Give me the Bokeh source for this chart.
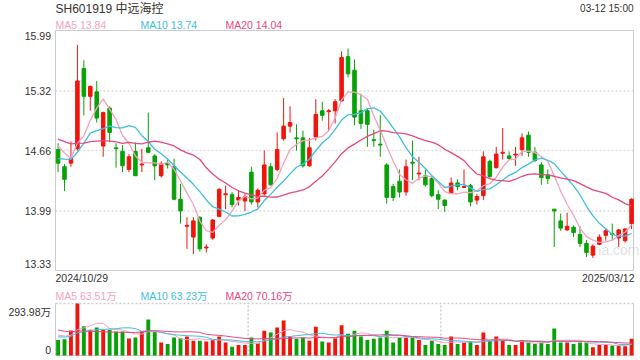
import numpy as np
from bokeh.plotting import figure
from bokeh.models import Range1d, Label, ColumnDataSource
from bokeh.layouts import column
from bokeh.embed import file_html
from bokeh.resources import INLINE

# ---------------- data ----------------
title_text = "SH601919 中远海控"
time_text = "03-12 15:00"
start_date = "2024/10/29"
end_date = "2025/03/12"

open_ = [14.67, 14.48, 14.52, 14.68, 15.57, 15.26, 15.31, 14.71, 15.13, 14.69,
         14.65, 14.45, 14.65, 14.50, 14.69, 14.60, 14.38, 14.52, 14.48, 14.12,
         13.82, 13.70, 13.92, 13.58, 13.69, 13.93, 14.17, 14.17, 14.11, 14.10,
         14.42, 14.09, 14.18, 14.48, 14.45, 14.79, 14.93, 14.80, 14.80, 14.49,
         14.81, 15.10, 15.09, 15.10, 15.21, 15.70, 15.55, 15.10, 15.10, 14.78,
         14.73, 14.50, 14.26, 14.32, 14.20, 14.53, 14.40, 14.38, 14.35, 14.17,
         14.11, 14.19, 14.30, 14.25, 14.27, 14.11, 14.16, 14.54, 14.47, 14.63,
         14.60, 14.61, 14.67, 14.83, 14.64, 14.50, 14.39, 14.01, 13.88, 13.78,
         13.81, 13.73, 13.63, 13.50, 13.62, 13.72, 13.74, 13.69, 13.66, 13.85]
high = [14.74, 14.51, 14.76, 15.83, 15.66, 15.38, 15.43, 15.09, 15.15, 14.74,
        14.72, 14.62, 14.75, 14.68, 15.08, 14.62, 14.54, 14.56, 14.57, 14.29,
        13.92, 13.92, 13.93, 13.62, 13.90, 14.24, 14.27, 14.20, 14.22, 14.18,
        14.48, 14.24, 14.66, 14.52, 14.86, 15.24, 15.15, 14.95, 14.88, 14.80,
        15.23, 15.20, 15.12, 15.23, 15.76, 15.79, 15.67, 15.29, 15.13, 14.89,
        15.05, 14.52, 14.29, 14.45, 14.56, 14.77, 14.59, 14.45, 14.37, 14.22,
        14.12, 14.36, 14.34, 14.45, 14.29, 14.18, 14.65, 14.56, 14.70, 14.91,
        14.65, 14.70, 14.85, 14.87, 14.70, 14.53, 14.45, 14.01, 13.96, 13.97,
        13.83, 13.82, 13.67, 13.62, 13.73, 13.80, 13.85, 13.79, 13.80, 14.13]
low = [14.42, 14.21, 14.48, 14.66, 15.05, 15.10, 14.97, 14.59, 14.75, 14.47,
       14.42, 14.42, 14.38, 14.42, 14.63, 14.33, 14.36, 14.46, 14.11, 13.85,
       13.57, 13.51, 13.54, 13.53, 13.67, 13.92, 14.01, 14.03, 14.05, 13.99,
       14.06, 14.03, 14.16, 14.27, 14.43, 14.77, 14.86, 14.66, 14.47, 14.48,
       14.77, 14.99, 14.88, 14.96, 15.20, 15.47, 14.94, 14.90, 14.70, 14.70,
       14.59, 14.07, 14.10, 14.14, 14.16, 14.33, 14.33, 14.26, 14.14, 14.01,
       13.98, 14.19, 14.22, 14.25, 14.04, 14.06, 14.11, 14.36, 14.46, 14.56,
       14.56, 14.49, 14.60, 14.59, 14.53, 14.28, 14.29, 13.59, 13.77, 13.77,
       13.70, 13.59, 13.48, 13.47, 13.61, 13.66, 13.66, 13.59, 13.64, 13.79]
close = [14.52, 14.34, 14.57, 15.43, 15.26, 15.37, 15.02, 15.08, 14.86, 14.68,
         14.49, 14.59, 14.38, 14.51, 14.64, 14.49, 14.51, 14.50, 14.12, 13.99,
         13.83, 13.88, 13.57, 13.59, 13.89, 14.23, 14.18, 14.06, 14.14, 14.15,
         14.09, 14.22, 14.50, 14.28, 14.67, 14.93, 14.97, 14.79, 14.49, 14.69,
         15.06, 15.05, 15.10, 15.20, 15.69, 15.51, 15.03, 14.96, 14.95, 14.77,
         14.72, 14.14, 14.14, 14.20, 14.48, 14.52, 14.41, 14.28, 14.16, 14.12,
         14.05, 14.30, 14.26, 14.26, 14.09, 14.15, 14.59, 14.37, 14.62, 14.64,
         14.57, 14.62, 14.80, 14.64, 14.55, 14.36, 14.35, 13.99, 13.80, 13.82,
         13.75, 13.63, 13.53, 13.60, 13.70, 13.77, 13.73, 13.78, 13.79, 14.12]
# volume in 万 (10k lots)
volume = [88, 92, 142, 293.98, 165, 146, 159, 146, 146, 136,
          136, 96, 102, 136, 204, 134, 73, 65, 102, 98,
          107, 84, 84, 79, 88, 107, 73, 50, 60, 60,
          102, 69, 140, 130, 159, 198, 107, 94, 102, 84,
          163, 79, 73, 98, 171, 123, 140, 107, 88, 94,
          102, 140, 73, 102, 102, 102, 88, 60, 84, 65,
          60, 107, 65, 73, 79, 60, 130, 82, 107, 84,
          60, 60, 88, 73, 65, 73, 65, 152, 73, 73,
          65, 73, 73, 46, 60, 60, 56, 56, 52, 94]
# sessions before the window (estimated from where the MA lines start)
prior_close = [14.85, 15.10, 15.30, 15.20, 15.05, 14.90, 15.00, 14.95, 14.85, 14.80,
               14.40, 14.60, 14.63, 14.26, 14.26, 14.73, 14.87, 14.58, 14.85]
prior_volume = [230, 210, 195, 185, 175, 170, 180, 165, 160, 150,
                110, 100, 95, 90, 90, 115, 125, 130, 117]

price_ticks = [15.99, 15.32, 14.66, 13.99, 13.33]
vol_max = 293.98
ma_periods = [5, 10, 20]
ma_price_text = ["MA5 13.84", "MA10 13.74", "MA20 14.04"]
ma_vol_text = ["MA5 63.51万", "MA10 63.23万", "MA20 70.16万"]

# ---------------- styles / layout ----------------
FONT = "Liberation Sans, Noto Sans CJK SC"
RED = "#f0150c"
GREEN = "#08a108"
MA_COLORS = ["#f6a2bf", "#3dbfe2", "#e8487e"]
TXT = "#333333"
BORDER = "#cccccc"
GRID = "#dddddd"
X0, X1 = -0.4, 89.3            # data extent of the chart boxes
W = 640
BOX_L, BOX_R = 55, 633         # pixel edges of the boxes
H1, P_TOP, P_BOT = 290, 30, 270
H2, V_TOP, V_BOT = 70, 13, 65  # volume box, in the second canvas

kx = (BOX_R - BOX_L) / (X1 - X0)
xr0 = X0 - BOX_L / kx
xr1 = xr0 + W / kx
pmin, pmax = price_ticks[-1], price_ticks[0]
ky = (P_BOT - P_TOP) / (pmax - pmin)
yr1 = pmax + P_TOP / ky
yr0 = pmin - (H1 - P_BOT) / ky
kv = (V_BOT - V_TOP) / vol_max
vr1 = vol_max + V_TOP / kv
vr0 = 0 - (H2 - V_BOT) / kv


def moving_avg(series, prior, n):
    full = np.array(list(prior) + list(series), dtype=float)
    k = len(prior)
    return [float(full[max(0, k + i - n + 1):k + i + 1].mean()) for i in range(len(series))]


n = len(close)
xs = list(range(n))
colors = [RED if c >= o else GREEN for o, c in zip(open_, close)]
src = ColumnDataSource(dict(
    x=xs, open=open_, high=high, low=low, close=close,
    top=[max(o, c) for o, c in zip(open_, close)],
    bottom=[min(o, c) for o, c in zip(open_, close)],
    vol=volume, color=colors))


def label(p, x, y, text, color=TXT, size="10.5px", align="left",
          y_units="screen", y_offset=0, level="annotation", alpha=1.0):
    p.add_layout(Label(x=x, y=y, x_units="screen", y_units=y_units, text=text,
                       text_color=color, text_font_size=size, text_align=align,
                       text_baseline="middle", text_font=FONT, y_offset=y_offset,
                       level=level, text_alpha=alpha))


def bare_figure(h, yr):
    p = figure(width=W, height=h, x_range=Range1d(xr0, xr1), y_range=Range1d(*yr),
               output_backend="svg", toolbar_location=None,
               x_axis_location=None, y_axis_location=None,
               min_border=0, min_border_left=0, min_border_right=0,
               min_border_top=0, min_border_bottom=0)
    p.outline_line_color = None
    p.xgrid.visible = False
    p.ygrid.visible = False
    return p


# ---------------- price chart ----------------
p1 = bare_figure(H1, (yr0, yr1))
inner = price_ticks[1:-1]
p1.segment(x0=[X0] * len(inner), x1=[X1] * len(inner), y0=inner, y1=inner,
           line_color=GRID, line_dash="2 2", line_width=1.5)
p1.quad(left=[X0], right=[X1], bottom=[pmin], top=[pmax], fill_color=None,
        line_color=BORDER, line_width=1)

label(p1, 583, H1 - 249, "sina.com", color="#d9d9d9", size="14px", level="underlay", alpha=0.8)

p1.segment(x0="x", y0="low", x1="x", y1="high", line_color="color", line_width=1, source=src)
p1.vbar(x="x", width=0.55, top="top", bottom="bottom", fill_color="color",
        line_color="color", line_width=1, source=src)
for per, col in zip(ma_periods, MA_COLORS):
    p1.line(xs, moving_avg(close, prior_close, per), line_color=col, line_width=1.3)

label(p1, BOX_L, H1 - 8, title_text, size="12px")
label(p1, BOX_R, H1 - 8, time_text, size="10px", align="right")
for txt, col, sx in zip(ma_price_text, MA_COLORS, [55, 140, 225]):
    label(p1, sx, H1 - 24.3, txt, color=col)
offsets = {pmax: -5, pmin: 6.5}
for t in price_ticks:
    label(p1, 50.5, t, f"{t:.2f}", align="right", y_units="data", y_offset=offsets.get(t, 0))
label(p1, BOX_L, H1 - 277.5, start_date)
label(p1, BOX_R + 1, H1 - 277.5, end_date, align="right")

# ---------------- volume chart ----------------
p2 = bare_figure(H2, (vr0, vr1))
p2.segment(x0=[X0], x1=[X1], y0=[vol_max], y1=[vol_max], line_color=BORDER,
           line_dash="2 2", line_width=1.5)
for k in (1, 2):
    xv = X0 + (X1 - X0) * k / 3
    p2.segment(x0=[xv], x1=[xv], y0=[0], y1=[vol_max], line_color=BORDER,
               line_dash="2 2", line_width=1.5)
p2.segment(x0=[X0, X1, X0], x1=[X0, X1, X1], y0=[0, 0, 0], y1=[vol_max, vol_max, 0],
           line_color=BORDER, line_width=1)

p2.vbar(x="x", width=0.6, top="vol", bottom=0, fill_color="color", line_color=None, source=src)
for per, col in zip(ma_periods, MA_COLORS):
    p2.line(xs, moving_avg(volume, prior_volume, per), line_color=col, line_width=1)

for txt, col, sx in zip(ma_vol_text, MA_COLORS, [55, 140, 225]):
    label(p2, sx, H2 - 5, txt, color=col)
label(p2, 50.5, vol_max, "293.98万", align="right", y_units="data", y_offset=-8.5)
label(p2, 50.5, 0, "0", align="right", y_units="data", y_offset=6)

layout = column(p1, p2)
open("out.html", "w").write(file_html(layout, INLINE))
